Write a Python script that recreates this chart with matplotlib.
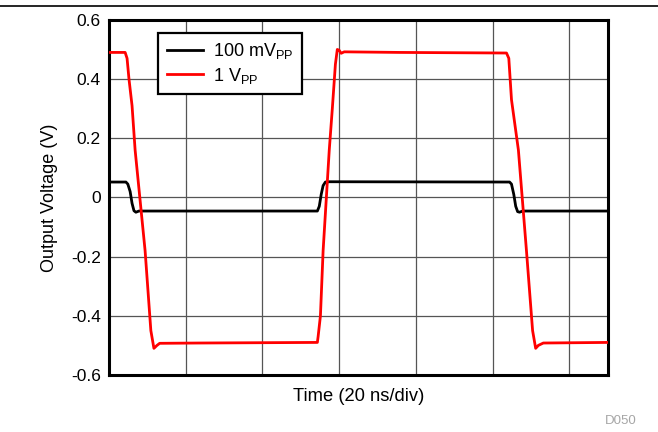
import numpy as np
import matplotlib
matplotlib.use("Agg")
import matplotlib.pyplot as plt
from matplotlib.lines import Line2D

plt.rcParams['font.family'] = ['Liberation Sans', 'DejaVu Sans']
plt.rcParams['axes.unicode_minus'] = False

# time in ns, voltage in V
RED_T = [0.0, 4.2, 4.7, 5.2, 6.0, 6.8, 9.4, 10.9, 11.7, 12.5, 13.2, 23.6,
         54.3, 54.5, 55.1, 55.8, 57.4, 58.2, 59.0, 59.5, 60.0, 60.5, 61.3, 75.6,
         103.6, 104.2, 104.9, 106.7, 108.8, 110.4, 111.2, 111.9, 113.2, 130.0]
RED_V = [0.49, 0.49, 0.47, 0.40, 0.31, 0.16, -0.18, -0.45, -0.51, -0.50, -0.493, -0.492,
         -0.49, -0.47, -0.40, -0.18, 0.16, 0.30, 0.45, 0.50, 0.497, 0.487, 0.492, 0.49,
         0.488, 0.47, 0.33, 0.16, -0.18, -0.45, -0.51, -0.50, -0.492, -0.49]

BLK_T = [0.0, 4.4, 4.9, 5.5, 6.0, 6.5, 7.0, 7.8, 54.3, 54.8, 55.3, 55.8, 56.4, 57.4,
         104.4, 104.9, 105.5, 106.0, 106.5, 107.0, 107.8, 130.0]
BLK_V = [0.052, 0.052, 0.045, 0.02, -0.02, -0.045, -0.05, -0.046, -0.046, -0.03, 0.01,
         0.04, 0.052, 0.053, 0.052, 0.045, 0.01, -0.03, -0.048, -0.05, -0.046, -0.046]

LABELS = ["100 mV$\\mathregular{_{PP}}$", "1 V$\\mathregular{_{PP}}$"]
Y_TICKS = [-0.6, -0.4, -0.2, 0, 0.2, 0.4, 0.6]
Y_TICKLABELS = ["-0.6", "-0.4", "-0.2", "0", "0.2", "0.4", "0.6"]
X_GRID = [0, 20, 40, 60, 80, 100, 120]

fig = plt.figure(figsize=(6.58, 4.32), dpi=100)
ax = fig.add_axes([0.1657, 0.132, 0.758, 0.822])

ax.plot(BLK_T, BLK_V, color="black", lw=2, label=LABELS[0], zorder=3)
ax.plot(RED_T, RED_V, color="#ff0000", lw=2, label=LABELS[1], zorder=4)

ax.set_xlim(0, 130)
ax.set_ylim(-0.6, 0.6)
ax.set_xticks(X_GRID)
ax.set_xticklabels([])
ax.tick_params(axis="x", length=0)
ax.set_yticks(Y_TICKS)
ax.set_yticklabels(Y_TICKLABELS, fontsize=12.5)
ax.tick_params(axis="y", direction="out", length=0, pad=6)
ax.grid(True, color="#555555", lw=0.9)
for s in ax.spines.values():
    s.set_linewidth(2.2)

ax.set_xlabel("Time (20 ns/div)", fontsize=13.2, labelpad=6)
ax.set_ylabel("Output Voltage (V)", fontsize=13, labelpad=9)

leg = ax.legend(loc="upper left", bbox_to_anchor=(0.099, 0.963), fontsize=13,
                frameon=True, fancybox=False, edgecolor="black", framealpha=1,
                handlelength=2.0, handletextpad=0.6, borderpad=0.45,
                labelspacing=0.25, borderaxespad=0)
leg.get_frame().set_linewidth(1.6)

fig.add_artist(Line2D([0, 1], [1 - 6 / 432, 1 - 6 / 432], color="black", lw=1.2,
                      transform=fig.transFigure))
fig.text(0.968, 0.012, "D050", color="#a6a6a6", fontsize=9.5, ha="right", va="bottom")

fig.savefig("out.png", dpi=100)
